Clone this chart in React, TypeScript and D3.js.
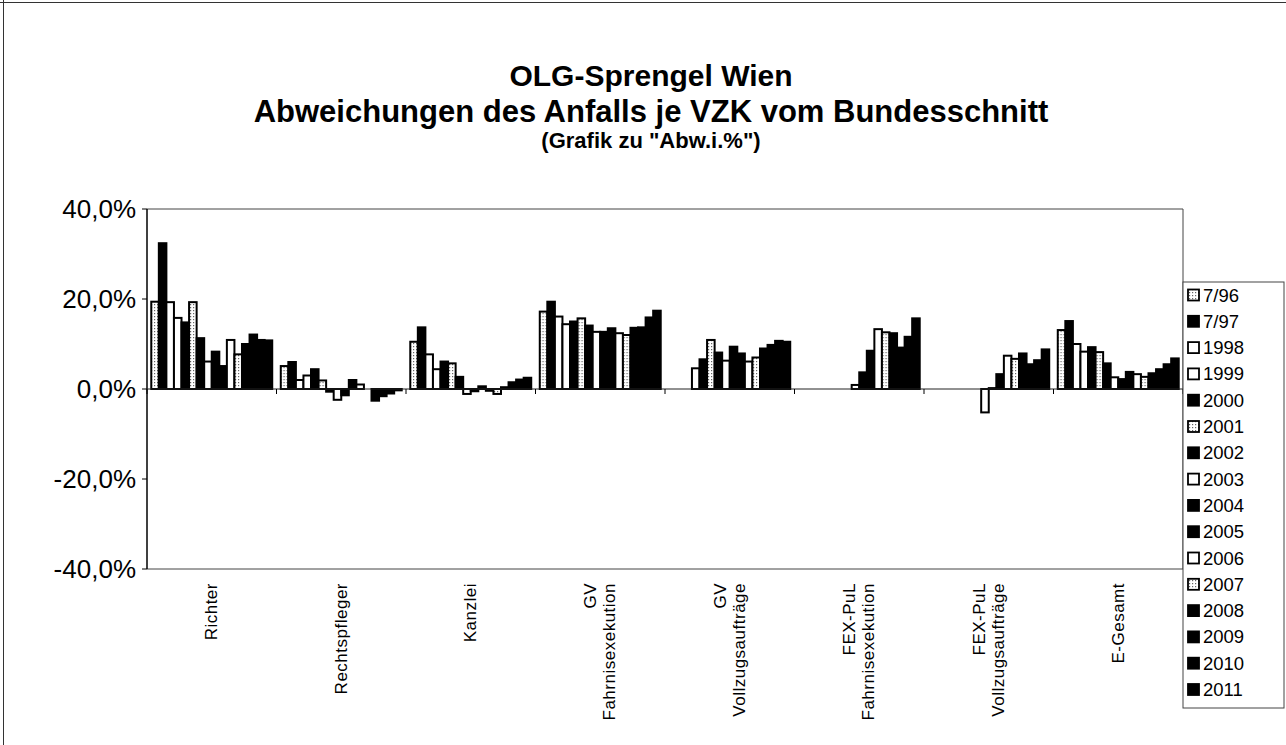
import React from "react";
import * as d3 from "d3";

const categories = [
  "Richter",
  "Rechtspfleger",
  "Kanzlei",
  "GV\nFahrnisexekution",
  "GV\nVollzugsaufträge",
  "FEX-PuL\nFahrnisexekution",
  "FEX-PuL\nVollzugsaufträge",
  "E-Gesamt",
];

const seriesNames = [
  "7/96", "7/97", "1998", "1999", "2000", "2001", "2002", "2003",
  "2004", "2005", "2006", "2007", "2008", "2009", "2010", "2011",
];

// values in percent, one array per category, ordered like seriesNames
const richter = [19.4, 32.4, 19.3, 15.8, 14.8, 19.3, 11.3, 6.1, 8.3, 5.1, 10.9, 7.7, 10.0, 12.1, 10.9, 10.8];
const rechtspfleger = [5.1, 6.0, 2.0, 3.0, 4.4, 1.9, -0.6, -2.4, -1.4, 2.0, 1.0, 0, -2.6, -1.6, -1.0, -0.3];
const kanzlei = [10.5, 13.7, 7.7, 4.4, 6.1, 5.7, 2.7, -1.1, -0.5, 0.6, -0.4, -1.1, 0.4, 1.5, 2.1, 2.5];
const gvFahrnis = [17.2, 19.4, 16.1, 14.4, 15.0, 15.7, 14.1, 12.7, 12.7, 13.5, 12.4, 12.0, 13.6, 13.7, 15.9, 17.4];
const gvVollzug = [null, null, null, 4.6, 6.6, 10.9, 8.1, 6.3, 9.4, 7.9, 6.1, 7.0, 9.0, 9.8, 10.7, 10.5];
const fexFahrnis = [null, null, null, null, null, null, null, 0.9, 3.7, 8.5, 13.3, 12.6, 12.4, 9.2, 11.6, 15.7];
const fexVollzug = [null, null, null, null, null, null, null, -5.2, 0.2, 3.3, 7.4, 6.7, 7.9, 5.5, 6.4, 8.8];
const eGesamt = [13.1, 15.1, 10.0, 8.3, 9.3, 8.2, 5.7, 2.6, 2.2, 3.8, 3.3, 2.7, 3.5, 4.4, 5.5, 6.8];

const values: (number | null)[][] = [
  richter, rechtspfleger, kanzlei, gvFahrnis, gvVollzug, fexFahrnis, fexVollzug, eGesamt,
];

const yTicks = [-40, -20, 0, 20, 40];

const titleLines = [
  "OLG-Sprengel Wien",
  "Abweichungen des Anfalls je VZK vom Bundesschnitt",
];
const subtitle = '(Grafik zu "Abw.i.%")';

// styles
const seriesFill = [
  "url(#dots)", "#000", "#fff", "#fff", "#000", "url(#dots)", "#000", "#fff",
  "#000", "#000", "#fff", "url(#dots)", "#000", "#000", "#000", "#000",
];

const FONT = "'Liberation Sans', Arial, Helvetica, sans-serif";

export default function App() {
  const W = 1286, H = 745;
  const left = 147, right = 1183, top = 209, bottom = 569;

  const y = d3.scaleLinear().domain([-40, 40]).range([bottom, top]);
  const x0 = d3.scaleBand<string>().domain(categories).range([left, right]).padding(0);
  const x1 = d3
    .scaleBand<string>()
    .domain(seriesNames)
    .range([0, x0.bandwidth()])
    .paddingInner(0)
    .paddingOuter(0.565);

  const loc = d3.formatLocale({
    decimal: ",",
    thousands: ".",
    grouping: [3],
    currency: ["", "€"],
    minus: "-",
  } as any);
  const fmt = loc.format(".1f");

  const y0 = y(0);

  return (
    <svg
      width={W}
      height={H}
      style={{ position: "absolute", left: 0, top: 0, background: "#fff" }}
      fontFamily={FONT}
    >
      <defs>
        <pattern id="dots" width="3" height="3" patternUnits="userSpaceOnUse">
          <rect width="3" height="3" fill="#fff" />
          <rect x="1" y="1" width="1.2" height="1.2" fill="#666" />
        </pattern>
      </defs>
      <rect width={W} height={H} fill="#fff" />
      {/* outer chart border */}
      <line x1={0} x2={W} y1={2.5} y2={2.5} stroke="#333" strokeWidth={1} />
      <line x1={3.5} x2={3.5} y1={0} y2={H} stroke="#333" strokeWidth={1} />

      {/* titles */}
      <g textAnchor="middle" fontWeight="bold" fill="#000">
        <text x={651} y={86} fontSize={30}>{titleLines[0]}</text>
        <text x={651} y={122} fontSize={31}>{titleLines[1]}</text>
        <text x={651} y={148} fontSize={22}>{subtitle}</text>
      </g>

      {/* plot frame */}
      <line x1={left} x2={right} y1={top} y2={top} stroke="#444" strokeWidth={1} />
      <line x1={right} x2={right} y1={top} y2={bottom} stroke="#444" strokeWidth={1} />
      <line x1={left} x2={right} y1={bottom} y2={bottom} stroke="#444" strokeWidth={1} />
      <line x1={left} x2={left} y1={top} y2={bottom} stroke="#000" strokeWidth={1.5} />

      {/* y ticks + labels */}
      {yTicks.map((t) => (
        <g key={t}>
          <line x1={left - 5} x2={left} y1={y(t)} y2={y(t)} stroke="#000" strokeWidth={1} />
          <text
            x={136}
            y={y(t)}
            textAnchor="end"
            dominantBaseline="central"
            fontSize={26}
            fill="#000"
          >
            {fmt(t)}%
          </text>
        </g>
      ))}

      {/* bars */}
      {categories.map((c, ci) => (
        <g key={c} transform={`translate(${x0(c)},0)`}>
          {seriesNames.map((s, si) => {
            const v = values[ci][si];
            if (v === null || v === undefined) return null;
            const yv = y(v);
            return (
              <rect
                key={s}
                x={x1(s)}
                y={Math.min(yv, y0)}
                width={x1.bandwidth()}
                height={Math.abs(yv - y0)}
                fill={seriesFill[si]}
                stroke="#000"
                strokeWidth={2}
              />
            );
          })}
        </g>
      ))}

      {/* zero axis with category ticks */}
      <line x1={left} x2={right} y1={y0} y2={y0} stroke="#222" strokeWidth={1} />
      {categories.map((c, ci) => (
        <line
          key={"t" + ci}
          x1={(x0(c) as number) + x0.bandwidth()}
          x2={(x0(c) as number) + x0.bandwidth()}
          y1={y0}
          y2={y0 + 5}
          stroke="#000"
          strokeWidth={1}
        />
      ))}
      <line x1={left} x2={left} y1={y0} y2={y0 + 5} stroke="#000" strokeWidth={1} />

      {/* category labels */}
      {categories.map((c) => {
        const lines = c.split("\n");
        const cx = (x0(c) as number) + x0.bandwidth() / 2;
        return (
          <g key={"l" + c}>
            {lines.map((ln, li) => {
              const lx = cx + (li - (lines.length - 1) / 2) * 19;
              return (
                <text
                  key={li}
                  transform={`translate(${lx},583) rotate(-90)`}
                  textAnchor="end"
                  dominantBaseline="central"
                  fontSize={17}
                  letterSpacing={0.5}
                  fill="#000"
                >
                  {ln}
                </text>
              );
            })}
          </g>
        );
      })}

      {/* legend */}
      <rect x={1183} y={282} width={101} height={426} fill="#fff" stroke="#444" strokeWidth={1} />
      {seriesNames.map((s, si) => {
        const ly = 295 + si * 26.3;
        return (
          <g key={"lg" + s}>
            <rect
              x={1188}
              y={ly - 5.5}
              width={11}
              height={11}
              fill={seriesFill[si]}
              stroke="#000"
              strokeWidth={1.8}
            />
            <text x={1203} y={ly} dominantBaseline="central" fontSize={18.5} fill="#000">
              {s}
            </text>
          </g>
        );
      })}
    </svg>
  );
}
